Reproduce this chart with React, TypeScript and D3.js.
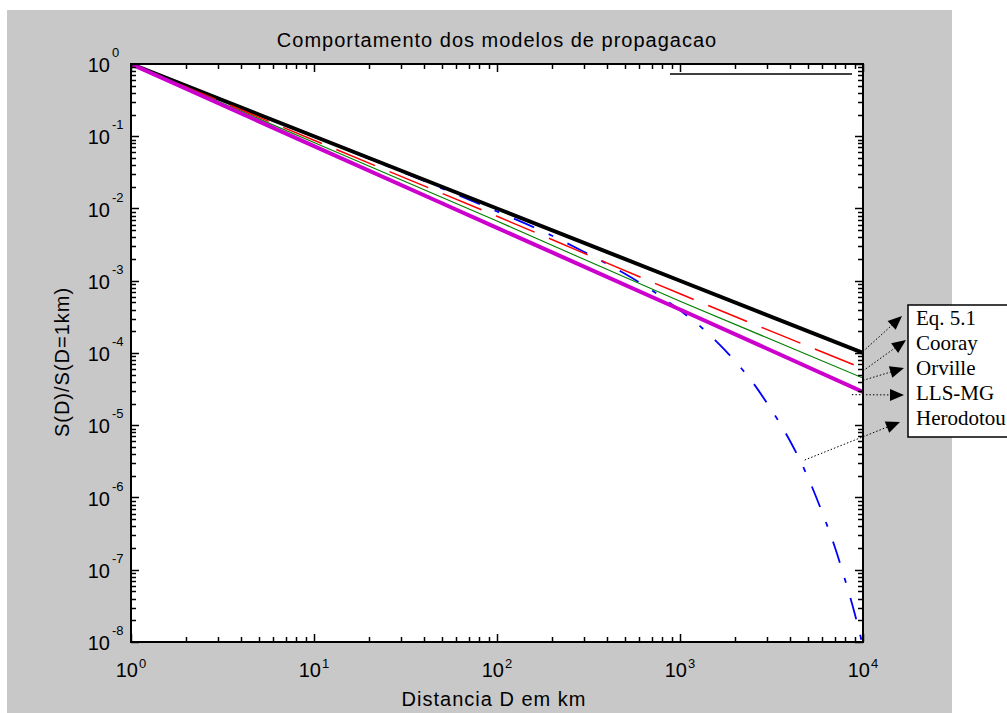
import React from "react";
import * as d3 from "d3";

// ---- data ----
const D_LINE = [1, 10, 100, 1000, 10000];
const EQ51 = [1, 0.1, 0.01, 0.001, 0.0001];
const COORAY = [1, 0.088, 0.0078, 0.00066, 0.000061];
const ORVILLE = [1, 0.082, 0.0067, 0.00052, 0.000045];
const LLSMG = [1, 0.073, 0.0054, 0.0004, 0.000029];

const D_HER = [1, 2, 5, 10, 20, 50, 100, 200, 300, 500, 700, 1000, 1300, 1600, 2000, 2500, 3000, 3500, 4000, 5000, 6000, 7000, 8000, 9000, 10000];
const HERODOTOU = [1, 0.5, 0.2, 0.099, 0.049, 0.019, 0.0091, 0.0042, 0.0025, 0.00125, 0.00074, 0.00039, 0.00023, 0.00014, 0.000077, 0.000039, 0.00002, 0.0000108, 0.000006, 0.0000019, 0.00000061, 0.00000021, 0.000000071, 0.000000025, 0.0000000087];

const LEGEND_LABELS = ["Eq. 5.1", "Cooray", "Orville", "LLS-MG", "Herodotou"];
// annotation anchors (data coords where each arrow starts)
const ARROW_FROM: [number, number][] = [
  [10000, 0.000105],
  [10000, 0.0000565],
  [10000, 0.0000418],
  [8700, 0.0000265],
  [4800, 0.0000033],
];
const X_TICKS = [1, 10, 100, 1000, 10000];
const Y_EXP = [0, -1, -2, -3, -4, -5, -6, -7, -8];

const TITLE = "Comportamento dos modelos de propagacao";
const X_LABEL = "Distancia D em km";
const Y_LABEL = "S(D)/S(D=1km)";

export default function App() {
  const L = 131, R = 863, T = 64, B = 642;
  const x = d3.scaleLog().domain([1, 10000]).range([L, R]);
  const y = d3.scaleLog().domain([1e-8, 1]).range([B, T]);

  const straight = d3.line<[number, number]>().x(d => x(d[0])).y(d => y(d[1]));
  const smooth = d3.line<[number, number]>().x(d => x(d[0])).y(d => y(d[1])).curve(d3.curveMonotoneX);
  const pts = (xs: number[], ys: number[]) => xs.map((v, i) => [v, ys[i]] as [number, number]);

  const sans = "'Liberation Sans', Arial, sans-serif";
  const serif = "'Liberation Serif', 'Times New Roman', serif";

  const xTicks: { v: number; major: boolean }[] = [];
  for (let k = 0; k < 4; k++) for (let m = 1; m < 10; m++) xTicks.push({ v: m * Math.pow(10, k), major: m === 1 });
  xTicks.push({ v: 10000, major: true });
  const yTicks: { v: number; major: boolean }[] = [];
  for (let k = -8; k < 0; k++) for (let m = 1; m < 10; m++) yTicks.push({ v: m * Math.pow(10, k), major: m === 1 });
  yTicks.push({ v: 1, major: true });

  const legendTop = 305;
  const rowH = 25;
  const tips: [number, number][] = [
    [902, 316],
    [906, 340],
    [904, 368],
    [904, 395],
    [900, 422],
  ];

  const arrowHead = (sx: number, sy: number, tx: number, ty: number) => {
    const ang = Math.atan2(ty - sy, tx - sx);
    const len = 14, hw = 6;
    const bx = tx - len * Math.cos(ang), by = ty - len * Math.sin(ang);
    const px = -Math.sin(ang) * hw, py = Math.cos(ang) * hw;
    return `${tx},${ty} ${bx + px},${by + py} ${bx - px},${by - py}`;
  };

  const tickLines: React.ReactNode[] = [];
  xTicks.forEach((t, i) => {
    const len = t.major ? 8 : 5;
    const xx = Math.round(x(t.v)) + 0.5;
    tickLines.push(<line key={"xb" + i} x1={xx} x2={xx} y1={B} y2={B - len} stroke="#000" strokeWidth={1.5} />);
    tickLines.push(<line key={"xt" + i} x1={xx} x2={xx} y1={T} y2={T + len} stroke="#000" strokeWidth={1.5} />);
  });
  yTicks.forEach((t, i) => {
    const len = t.major ? 8 : 5;
    const yy = Math.round(y(t.v)) + 0.5;
    tickLines.push(<line key={"yl" + i} x1={L} x2={L + len} y1={yy} y2={yy} stroke="#000" strokeWidth={1.5} />);
    tickLines.push(<line key={"yr" + i} x1={R} x2={R - len} y1={yy} y2={yy} stroke="#000" strokeWidth={1.5} />);
  });

  return (
    <svg width={1007} height={713} style={{ position: "absolute", left: 0, top: 0, background: "#fff" }}>
      <defs>
        <clipPath id="plotclip">
          <rect x={L} y={T} width={R - L} height={B - T} />
        </clipPath>
      </defs>
      <rect x={7} y={10} width={945} height={703} fill="#c8c8c8" />
      <rect x={L} y={T} width={R - L} height={B - T} fill="#fff" />

      {/* curves */}
      <g clipPath="url(#plotclip)" fill="none">
        <path d={smooth(pts(D_HER, HERODOTOU)) || ""} stroke="#0000ff" strokeWidth={1.8} strokeDasharray="22,16,5,16" />
        <path d={straight(pts(D_LINE, EQ51)) || ""} stroke="#000" strokeWidth={4} />
        <path d={smooth(pts(D_LINE, COORAY)) || ""} stroke="#ff0000" strokeWidth={1.5} strokeDasharray="42,15.6" strokeDashoffset={8} />
        <path d={smooth(pts(D_LINE, ORVILLE)) || ""} stroke="#008000" strokeWidth={1.2} />
        <path d={smooth(pts(D_LINE, LLSMG)) || ""} stroke="#cc00cc" strokeWidth={4} />
      </g>

      {/* ticks */}
      <g>{tickLines}</g>
      <rect x={L} y={T} width={R - L} height={B - T} fill="none" stroke="#000" strokeWidth={2} />

      {/* tick labels */}
      <g fontFamily={sans} fill="#000">
        {X_TICKS.map((v, i) => (
          <g key={"xl" + i}>
            <text x={x(v) + 7} y={677} fontSize={20} textAnchor="end">10</text>
            <text x={x(v) + 8} y={668} fontSize={13}>{String(Math.round(Math.log10(v)))}</text>
          </g>
        ))}
        {Y_EXP.map((e, i) => (
          <g key={"yl" + i}>
            <text x={110} y={y(Math.pow(10, e)) + 8} fontSize={20} textAnchor="end">10</text>
            <text x={112} y={y(Math.pow(10, e)) - 7} fontSize={13}>{String(e)}</text>
          </g>
        ))}
      </g>

      {/* titles */}
      <text x={(L + R) / 2} y={47} fontFamily={sans} fontSize={20} textAnchor="middle" letterSpacing={1}>{TITLE}</text>
      <text x={494} y={706} fontFamily={sans} fontSize={20} textAnchor="middle" letterSpacing={1}>{X_LABEL}</text>
      <text transform={`translate(69,362) rotate(-90)`} fontFamily={sans} fontSize={20} textAnchor="middle" letterSpacing={1}>{Y_LABEL}</text>

      {/* stray line near top right */}
      <line x1={670} x2={852} y1={74} y2={74} stroke="#000" strokeWidth={1.3} />

      {/* legend box */}
      <rect x={908} y={legendTop} width={120} height={132} fill="#fff" stroke="#000" strokeWidth={1.5} />
      {LEGEND_LABELS.map((s, i) => (
        <text key={s} x={916} y={legendTop + 20 + i * rowH} fontFamily={serif} fontSize={21} fill="#000">{s}</text>
      ))}

      {/* arrows */}
      {ARROW_FROM.map((a, i) => {
        const sx = x(a[0]), sy = y(a[1]);
        const [tx, ty] = tips[i];
        const ang = Math.atan2(ty - sy, tx - sx);
        const ex = tx - 12 * Math.cos(ang), ey = ty - 12 * Math.sin(ang);
        return (
          <g key={"ar" + i}>
            <line x1={sx} y1={sy} x2={ex} y2={ey} stroke="#000" strokeWidth={1} strokeDasharray="1.5,2" />
            <polygon points={arrowHead(sx, sy, tx, ty)} fill="#000" />
          </g>
        );
      })}
    </svg>
  );
}
